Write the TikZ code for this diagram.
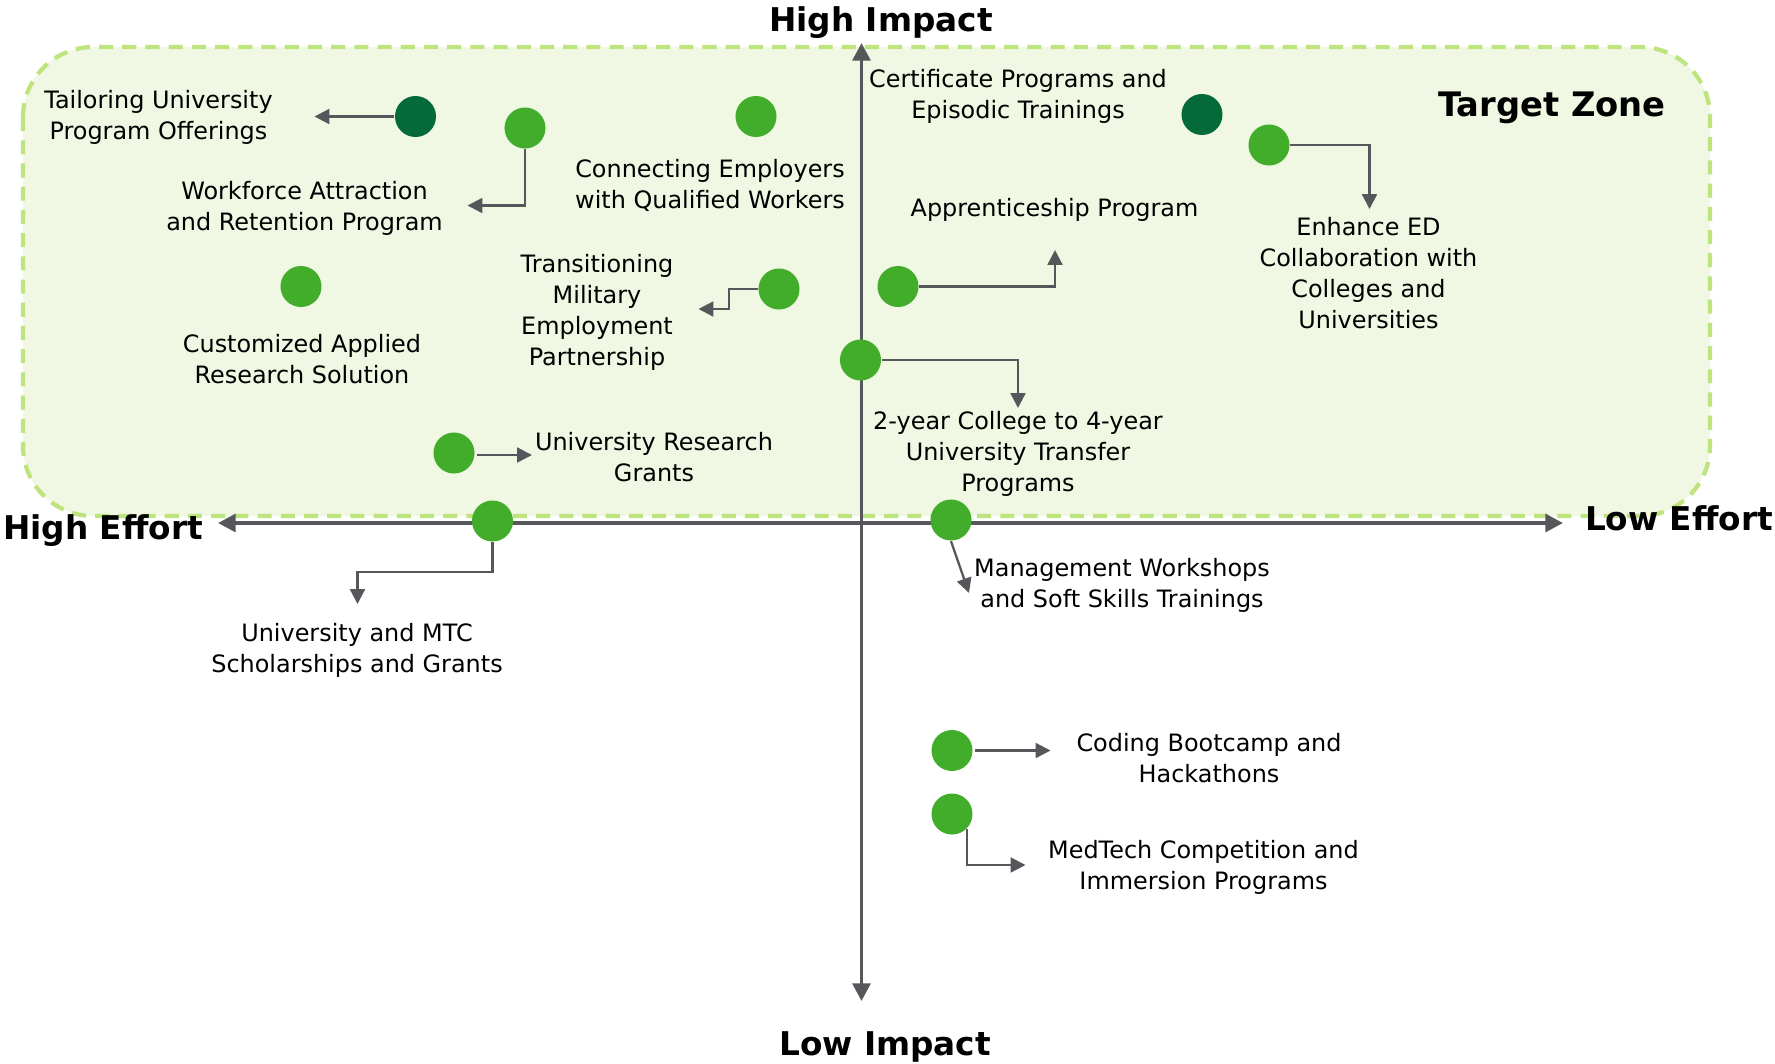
\documentclass[tikz,border=0pt]{standalone}
\usepackage{fontspec}
\setmainfont{DejaVu Sans}
\usetikzlibrary{arrows.meta}
\definecolor{dotgreen}{RGB}{66,173,43}
\definecolor{darkdot}{RGB}{4,107,56}
\definecolor{zonefill}{RGB}{240,247,227}
\definecolor{zoneline}{RGB}{190,228,125}
\definecolor{axisgray}{RGB}{85,87,91}
\begin{document}
\begin{tikzpicture}[x=0.01cm,y=-0.01cm,
 gdot/.style={circle,fill=dotgreen,minimum size=0.41cm,inner sep=0},
 ddot/.style={gdot,fill=darkdot},
 lbl/.style={align=center,font=\fontsize{6.8}{8.8}\selectfont,inner sep=0},
 axlbl/.style={font=\fontsize{9.3}{11}\selectfont\bfseries,inner sep=0},
 conn/.style={draw=axisgray,line width=0.65pt,-{Triangle[length=4.2pt,width=4.2pt]}},
 axisline/.style={draw=axisgray,line width=1.1pt,-{Triangle[length=5pt,width=5pt]}}]
\useasboundingbox (0,0) rectangle (1775,1063);
% target zone
\draw[fill=zonefill,draw=zoneline,line width=1.2pt,dash pattern=on 4pt off 2.6pt,rounded corners=0.7cm]
  (23,47) rectangle (1710,516);
\node[axlbl,font=\fontsize{9.6}{11}\selectfont\bfseries] (tz) at (1552,107.5) {Target Zone};
% axes
\coordinate (ctr) at (861.5,523);
\coordinate (ytop) at (861.5,43);
\coordinate (ybot) at (861.5,1001);
\coordinate (xleft) at (218,523);
\coordinate (xright) at (1563,523);
\draw[axisline] (ctr) -- (ytop);
\draw[axisline] (ctr) -- (ybot);
\draw[axisline] (ctr) -- (xleft);
\draw[axisline] (ctr) -- (xright);
\node[axlbl] (hi) at (881,22.5) {High Impact};
\node[axlbl] (li) at (885,1046.5) {Low Impact};
\node[axlbl] (he) at (103,530.5) {High Effort};
\node[axlbl] (le) at (1679,518.5) {Low Effort};

% dots
\node[ddot] (d1) at (415.5,116.5) {};
\node[gdot] (d2) at (525,128) {};
\node[gdot] (d3) at (756,116.5) {};
\node[gdot] (d4) at (301,286.5) {};
\node[gdot] (d5) at (779,289) {};
\node[gdot] (d6) at (454,453) {};
\node[gdot] (d7) at (492.5,521) {};
\node[ddot] (d8) at (1202,114.5) {};
\node[gdot] (d9) at (1269,145) {};
\node[gdot] (d10) at (898,286.5) {};
\node[gdot] (d11) at (860.5,360) {};
\node[gdot] (d12) at (951,520) {};
\node[gdot] (d13) at (952,750.5) {};
\node[gdot] (d14) at (952,814) {};

% labels
\node[lbl] (t1) at (158.5,117.5) {Tailoring University\\Program Offerings};
\node[lbl] (t2) at (304.5,208.5) {Workforce Attraction\\and Retention Program};
\node[lbl] (t3) at (710,185.5) {Connecting Employers\\with Qualified Workers};
\node[lbl] (t4) at (302,359) {Customized Applied\\Research Solution};
\node[lbl] (t5) at (597,312.5) {Transitioning\\Military\\Employment\\Partnership};
\node[lbl] (t6) at (654,457) {University Research\\Grants};
\node[lbl] (t7) at (357,650) {University and MTC\\Scholarships and Grants};
\node[lbl] (t8) at (1018,96.5) {Certificate Programs and\\Episodic Trainings};
\node[lbl] (t9) at (1368.5,273) {Enhance ED\\Collaboration with\\Colleges and\\Universities};
\node[lbl] (t10) at (1054.5,210) {Apprenticeship Program};
\node[lbl] (t11) at (1018,454) {2-year College to 4-year\\University Transfer\\Programs};
\node[lbl,anchor=west] (t12) at (973.5,585) {Management Workshops\\and Soft Skills Trainings};
\node[lbl] (t13) at (1209,758) {Coding Bootcamp and\\Hackathons};
\node[lbl] (t14) at (1203.5,867.5) {MedTech Competition and\\Immersion Programs};

% connector end points
\coordinate (e1) at (314.5,116.5);
\coordinate (e2) at (467.5,205.5);
\coordinate (e5) at (698.5,309);
\coordinate (e6) at (532,455);
\coordinate (e7) at (357.5,604);
\coordinate (e9) at (1369.5,209);
\coordinate (e10) at (1055,250);
\coordinate (e11) at (1018,408);
\coordinate (e12) at (969,593);
\coordinate (e13) at (1050.5,750.5);
\coordinate (e14) at (1025.5,865);

% connectors
\draw[conn] (d1.west) -- (e1);
\draw[conn] (d2.south) |- (e2);
\draw[conn] (d5.west) -- (729,289) -- (729,309) -- (e5);
\draw[conn] (d6.east) ++(2,2) -- (e6);
\draw[conn] (d7.south) -- (492.5,572) -| (e7);
\draw[conn] (d9.east) -| (e9);
\draw[conn] (d10.east) -| (e10);
\draw[conn] (d11.east) -| (e11);
\draw[conn] (d12.south) -- (e12);
\draw[conn] (d13.east) ++(2,0) -- (e13);
\draw[conn] (d14.south east) |- (e14);
\end{tikzpicture}
\end{document}
